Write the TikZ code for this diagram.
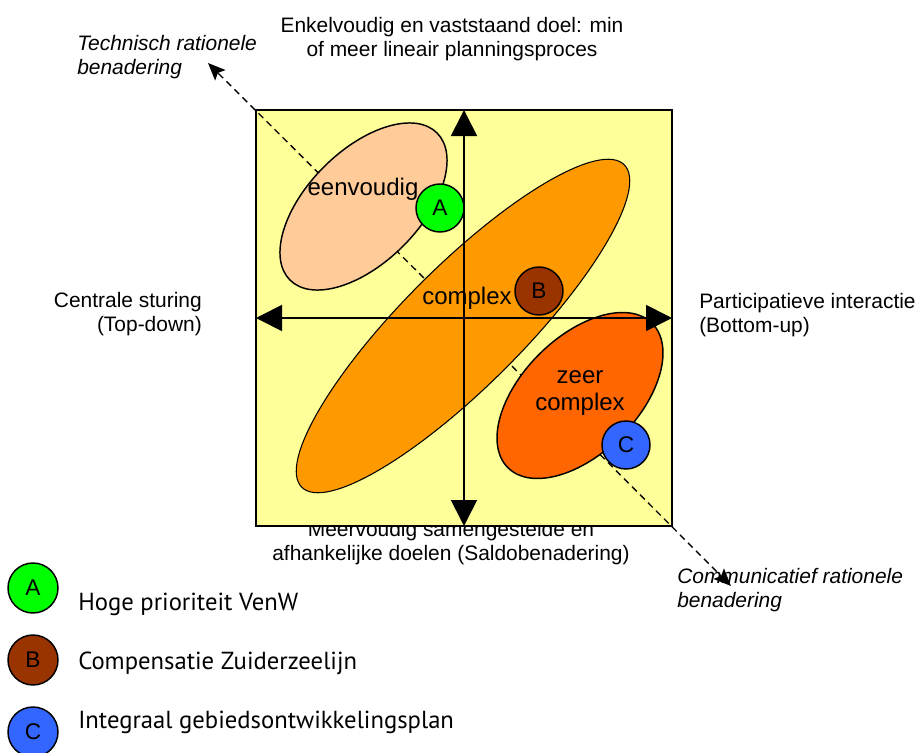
\documentclass[tikz,border=0pt]{standalone}
\usepackage{fontspec}
\setmainfont{Liberation Sans}
\newfontfamily\legendfont{PT Sans}
\usetikzlibrary{arrows.meta,positioning,shapes.geometric}

\definecolor{quadyellow}{HTML}{FFFF99}
\definecolor{simplepeach}{HTML}{FFCC99}
\definecolor{complexorange}{HTML}{FF9900}
\definecolor{veryorange}{HTML}{FF6600}
\definecolor{projgreen}{HTML}{00FF00}
\definecolor{projbrown}{HTML}{993300}
\definecolor{projblue}{HTML}{3366FF}

\begin{document}
\begin{tikzpicture}[
    x=0.75pt, y=-0.75pt,
    lbl/.style={font=\fontsize{15.7}{18}\selectfont, inner sep=0pt, align=center},
    ilbl/.style={lbl, font=\fontsize{15.7}{18}\selectfont\itshape, align=left},
    fldlbl/.style={font=\fontsize{18}{20}\selectfont, inner sep=0pt, anchor=base},
    axis/.style={{Triangle[length=19.5pt,width=19.5pt]}-{Triangle[length=19.5pt,width=19.5pt]}, line width=1.3pt},
    trend/.style={-{Stealth[length=13pt,width=11pt,inset=2.5pt]}, dash pattern=on 5pt off 3.5pt, line width=1pt},
    field/.style={ellipse, draw, inner sep=0pt, rotate=45, line width=1.1pt},
    proj/.style={circle, draw, line width=1.1pt, minimum size=36pt, inner sep=0pt,
        font=\fontsize{17}{18}\selectfont},
    key/.style={proj, minimum size=37.5pt},
    keytxt/.style={font=\legendfont\fontsize{18.5}{20}\selectfont, inner sep=0pt, anchor=base west}
]
\useasboundingbox (0,0) rectangle (922,753);
% text under the square (partly covered by it)
\node[lbl] (goalmulti) at (451,543) {Meervoudig samengestelde en\\afhankelijke doelen (Saldobenadering)};
% square
\node[draw, fill=quadyellow, line width=1.4pt, minimum size=312pt, inner sep=0pt, outer sep=0pt] (quad) at (464,318) {};
\coordinate (O) at (quad.center);
\coordinate (techtip) at (208,63);
\coordinate (commtip) at (731,586);
\draw[trend] (O) -- (techtip);
\draw[trend] (O) -- (commtip);
% fields
\node[field, fill=complexorange, line width=0.8pt, minimum width=342pt, minimum height=90pt] (complexfld) at (463,326) {};
\node[field, fill=simplepeach, minimum width=156pt, minimum height=84pt] (simplefld) at (363.5,206.5) {};
\node[field, fill=veryorange, minimum width=153pt, minimum height=87pt] (veryfld) at (580,395.5) {};
% axes
\draw[axis] (quad.west) -- (quad.east);
\draw[axis] (quad.south) -- (quad.north);
% field names
\node[fldlbl] (simplelbl) at (363,195) {eenvoudig};
\node[fldlbl] (complexlbl) at (467,304) {complex};
\node[fldlbl] (zeerlbl) at (580,383) {zeer};
\node[fldlbl] (verylbl) at (580,410) {complex};
% projects
\node[proj, fill=projgreen] (projA) at (440,208) {A};
\node[proj, fill=projbrown] (projB) at (539,291) {B};
\node[proj, fill=projblue] (projC) at (626,445) {C};
% axis texts
\node[lbl] (goalsingle) at (452,39) {Enkelvoudig en vaststaand doel: min\\of meer lineair planningsproces};
\node[lbl, align=right, anchor=east] (topdown) at (202,314) {Centrale sturing\\(Top-down)};
\node[lbl, align=left, anchor=west] (bottomup) at (699,315) {Participatieve interactie\\(Bottom-up)};
\node[ilbl, anchor=west] (techlbl) at (77,57) {Technisch rationele\\benadering};
\node[ilbl, anchor=west] (commlbl) at (677,590) {Communicatief rationele\\benadering};
% legend
\node[key, fill=projgreen] (keyA) at (33,588) {A};
\node[key, fill=projbrown] (keyB) at (33,660) {B};
\node[key, fill=projblue] (keyC) at (33,732) {C};
\node[keytxt] (keyAtxt) at (78,610) {Hoge prioriteit VenW};
\node[keytxt] (keyBtxt) at (78,669) {Compensatie Zuiderzeelijn};
\node[keytxt] (keyCtxt) at (78,728) {Integraal gebiedsontwikkelingsplan};
\end{tikzpicture}
\end{document}
